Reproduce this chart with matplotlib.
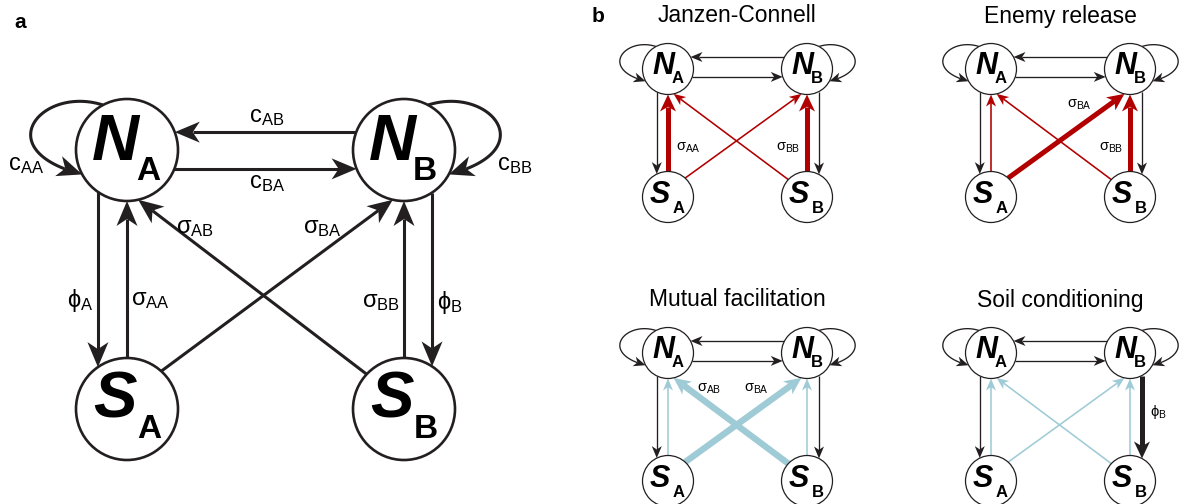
import matplotlib.pyplot as plt
import numpy as np
from matplotlib.patches import Circle, Polygon

plt.rcParams["font.family"] = ["Liberation Sans", "DejaVu Sans"]
plt.rcParams["mathtext.fontset"] = "custom"
plt.rcParams["mathtext.rm"] = "Liberation Sans"
plt.rcParams["mathtext.it"] = "Liberation Sans:italic"
plt.rcParams["mathtext.bf"] = "Liberation Sans:bold"
plt.rcParams["mathtext.default"] = "rm"
plt.rcParams["mathtext.fallback"] = "stixsans"

INK = "#231f20"
RED = "#b20000"
BLUE = "#9fcbd6"

# network nodes
node_keys = ["NA", "NB", "SA", "SB"]
node_letters = ["N", "N", "S", "S"]
node_subs = ["A", "B", "A", "B"]

# directed links and their symbols
edge_keys = ["c_AB", "c_BA", "c_AA", "c_BB", "phi_A", "phi_B",
             "sigma_AA", "sigma_BB", "sigma_AB", "sigma_BA"]
edge_symbols = ["c", "c", "c", "c", "ϕ", "ϕ", "σ", "σ", "σ", "σ"]
edge_subs = ["AB", "BA", "AA", "BB", "A", "B", "AA", "BB", "AB", "BA"]

# feedback scenarios: soil effect sign and the links that dominate
scenario_titles = ["Janzen-Connell", "Enemy release",
                   "Mutual facilitation", "Soil conditioning"]
scenario_sign = [-1, -1, 1, 1]
scenario_strong = [["sigma_AA", "sigma_BB"],
                   ["sigma_BA", "sigma_BB"],
                   ["sigma_AB", "sigma_BA"],
                   ["phi_B"]]


def centers(f):
    x0, y0, dx, dy = f["x0"], f["y0"], f["dx"], f["dy"]
    return {"NA": np.array([x0, y0]), "NB": np.array([x0 + dx, y0]),
            "SA": np.array([x0, y0 + dy]), "SB": np.array([x0 + dx, y0 + dy])}


def on_circle(c, r, u):
    u = np.asarray(u, float)
    return c + r * u / np.hypot(*u)


def bezier(p0, p1, p2, p3, n=60):
    t = np.linspace(0, 1, n)[:, None]
    return ((1 - t) ** 3 * p0 + 3 * (1 - t) ** 2 * t * p1
            + 3 * (1 - t) * t ** 2 * p2 + t ** 3 * p3)


def edge_path(key, f):
    c = centers(f)
    r = f["r"]
    if key in ("c_AB", "c_BA"):
        off = f["hy"][0] if key == "c_AB" else f["hy"][1]
        y = c["NA"][1] + off * r
        hx = r * np.sqrt(1 - off ** 2)
        a = np.array([c["NA"][0] + hx, y])
        b = np.array([c["NB"][0] - hx, y])
        return np.array([b, a]) if key == "c_AB" else np.array([a, b])
    if key in ("phi_A", "phi_B"):
        top = c["NA"] if key == "phi_A" else c["NB"]
        off = f["vx"][0] if key == "phi_A" else f["vx"][1]
        x = top[0] + off * r
        vy = r * np.sqrt(1 - off ** 2)
        return np.array([[x, top[1] + vy], [x, top[1] + f["dy"] - vy]])
    if key in ("sigma_AA", "sigma_BB"):
        top = c["NA"] if key == "sigma_AA" else c["NB"]
        return np.array([[top[0], top[1] + f["dy"] - r], [top[0], top[1] + r]])
    if key == "sigma_AB":
        return np.array([on_circle(c["SB"], r, (-0.73, -0.68)),
                         on_circle(c["NA"], r, (0.22, 0.98))])
    if key == "sigma_BA":
        return np.array([on_circle(c["SA"], r, (0.67, -0.74)),
                         on_circle(c["NB"], r, (-0.22, 0.98))])
    # self-limitation loops
    sx = -1 if key == "c_AA" else 1
    ctr = c["NA"] if key == "c_AA" else c["NB"]
    m = np.array([sx, 1.0])
    p0 = on_circle(ctr, r, m * (0.47, -0.88))
    p1 = ctr + r * m * (1.67, -1.27)
    p2 = ctr + r * m * (2.75, 0.0)
    p3 = on_circle(ctr, r, m * (0.88, 0.48))
    return bezier(p0, p1, p2, p3)


def draw_arrow(ax, pts, color, lw, head_len, head_w):
    pts = np.asarray(pts, float)
    tip = pts[-1]
    seg = np.hypot(*np.diff(pts, axis=0).T)
    from_tip = np.concatenate([np.cumsum(seg[::-1])[::-1], [0.0]])
    if len(pts) == 2:
        u = (tip - pts[0]) / seg[0]
    else:
        i = np.argmin(np.abs(from_tip - head_len))
        u = (tip - pts[i]) / np.hypot(*(tip - pts[i]))
    n = np.array([-u[1], u[0]])
    notch = tip - 0.72 * head_len * u
    keep = pts[from_tip > 0.72 * head_len]
    line = np.vstack([keep, notch])
    ax.plot(line[:, 0], line[:, 1], color=color, lw=lw,
            solid_capstyle="butt", zorder=2)
    head = [tip, tip - head_len * u + head_w / 2 * n, notch,
            tip - head_len * u - head_w / 2 * n]
    ax.add_patch(Polygon(head, closed=True, facecolor=color,
                         edgecolor="none", zorder=2.5))


def draw_nodes(ax, f):
    c = centers(f)
    for key, letter, sub in zip(node_keys, node_letters, node_subs):
        cx, cy = c[key]
        ax.add_patch(Circle((cx, cy), f["r"], facecolor="white",
                            edgecolor=INK, lw=f["node_lw"], zorder=3))
        (lx, ly), (sx, sy) = f["glyph"][letter]
        ax.text(cx + lx, cy + ly, letter, fontsize=f["letter_size"],
                fontweight="bold", fontstyle="italic", ha="center",
                va="baseline", color="black", zorder=4)
        ax.text(cx + sx, cy + sy, sub, fontsize=f["sub_size"],
                fontweight="bold", ha="center", va="baseline",
                color="black", zorder=4)


def edge_label(ax, f, key, fontsize):
    i = edge_keys.index(key)
    dx, dy = f["labels"][key]
    ax.text(f["x0"] + dx, f["y0"] + dy, f"${edge_symbols[i]}_{{{edge_subs[i]}}}$",
            fontsize=fontsize, ha="center", va="center", color="black", zorder=4)


fig = plt.figure(figsize=(11.8, 5.04), dpi=100)
ax = fig.add_axes([0, 0, 1, 1])
ax.set_xlim(0, 1180)
ax.set_ylim(504, 0)
ax.axis("off")

# panel a: the full network
big = dict(x0=127, y0=150, dx=277, dy=259, r=51, hy=(-0.35, 0.37),
           vx=(-0.57, 0.55), node_lw=1.9, letter_size=47, sub_size=24,
           glyph={"N": ((-12, 10), (21, 30)), "S": ((-12, 8), (22, 29))},
           labels={"c_AB": (140, -33), "c_BA": (140, 33), "c_AA": (-101, 15),
                   "c_BB": (388, 15), "phi_A": (-47, 150), "sigma_AA": (23, 150),
                   "sigma_AB": (68, 78), "sigma_BA": (195, 78),
                   "sigma_BB": (254, 152), "phi_B": (323, 152)})
for key in edge_keys:
    draw_arrow(ax, edge_path(key, big), INK, 2.2, 25, 21)
    edge_label(ax, big, key, 17)
draw_nodes(ax, big)
ax.text(20, 22, "a", fontsize=15, fontweight="bold", ha="center", va="center")

# panel b: four feedback scenarios
origins = [(668, 69), (991, 69), (668, 353), (991, 353)]
small_labels = {"sigma_AA": (20, 79), "sigma_BB": (120, 79), "sigma_AB": (41, 36),
                "sigma_BA": (88, 36), "phi_B": (167, 59)}
for title, sign, strong, (x0, y0) in zip(scenario_titles, scenario_sign,
                                         scenario_strong, origins):
    f = dict(x0=x0, y0=y0, dx=139, dy=128, r=25.5, hy=(-0.47, 0.31),
             vx=(-0.44, 0.47), node_lw=0.9, letter_size=22, sub_size=12,
             glyph={"N": ((-5, 5), (10, 14)), "S": ((-8, 6), (11, 16))},
             labels=small_labels)
    soil = RED if sign < 0 else BLUE
    thick_lw = 3.6 if sign < 0 else 4.6
    for key in edge_keys:
        color = soil if key.startswith("sigma") else INK
        if key in strong:
            lw = thick_lw if key.startswith("sigma") else 3.6
            draw_arrow(ax, edge_path(key, f), color, lw, 17, 16)
            edge_label(ax, f, key, 10.5)
        elif key.startswith("sigma"):
            draw_arrow(ax, edge_path(key, f), color, 1.15, 12, 10)
        else:
            draw_arrow(ax, edge_path(key, f), color, 0.95, 12, 10)
    draw_nodes(ax, f)
    ax.text(x0 + 69, y0 - 53, title, fontsize=16.5, ha="center", va="center")
ax.text(598, 17, "b", fontsize=15, fontweight="bold", ha="center", va="center")

fig.savefig("out.png", dpi=100)
